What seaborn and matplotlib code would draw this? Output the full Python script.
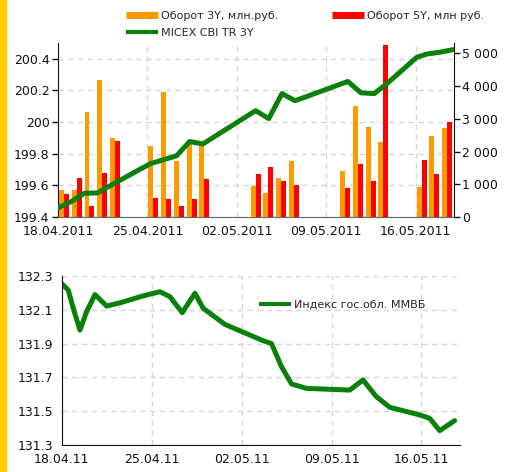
import numpy as np
import pandas as pd
import seaborn as sns
import matplotlib
matplotlib.use("Agg")
import matplotlib.pyplot as plt
from matplotlib.lines import Line2D
from matplotlib.patches import Rectangle
from matplotlib.ticker import FuncFormatter

# trading days with turnover bars (top chart)
trade_dates = ["18.04", "19.04", "20.04", "21.04", "22.04",
               "25.04", "26.04", "27.04", "28.04", "29.04",
               "03.05", "04.05", "05.05", "06.05",
               "10.05", "11.05", "12.05", "13.05",
               "16.05", "17.05", "18.05"]
vol_3y = [820, 820, 3225, 4190, 2405, 2180, 3825, 1713, 2340, 2300,
          940, 737, 1195, 1722, 1418, 3400, 2750, 2280, 920, 2463, 2720]
vol_5y = [716, 1195, 330, 1352, 2311, 590, 560, 330, 560, 1155,
          1326, 1530, 1091, 991, 890, 1622, 1091, 5259, 1753, 1326, 2902]

# MICEX CBI TR 3Y (days since 18.04.2011)
micex_day = [0.0, 1.03, 2.06, 3.09, 4.13, 7.22, 8.25, 9.28, 10.31, 11.35, 15.47,
             16.5, 17.53, 18.56, 22.69, 23.72, 24.75, 25.79, 28.09, 28.88, 29.91, 30.93]
micex_val = [199.457, 199.497, 199.55, 199.552, 199.6, 199.737, 199.762, 199.787,
             199.877, 199.862, 200.072, 200.022, 200.18, 200.135, 200.257, 200.185,
             200.18, 200.246, 200.41, 200.43, 200.442, 200.458]

# MICEX gov bond index
mmvb_day = [0.0, 0.51, 0.9, 1.42, 1.94, 2.59, 3.5, 4.67, 6.22, 7.64, 8.42, 9.38,
            10.37, 11.01, 12.7, 15.68, 16.33, 17.11, 17.89, 19.05, 22.42, 23.45,
            24.49, 25.53, 27.86, 28.64, 29.42, 30.58]
mmvb_val = [132.255, 132.217, 132.109, 131.98, 132.089, 132.19, 132.122, 132.144,
            132.18, 132.207, 132.178, 132.083, 132.198, 132.109, 132.014, 131.917,
            131.9, 131.763, 131.661, 131.635, 131.625, 131.685, 131.586, 131.523,
            131.478, 131.458, 131.385, 131.444]

top_ticks = [199.4, 199.6, 199.8, 200.0, 200.2, 200.4]
right_ticks = [0, 1000, 2000, 3000, 4000, 5000]
low_ticks = [131.3, 131.5, 131.7, 131.9, 132.1, 132.3]

ORANGE = "#FF9900"
RED = "#FF0000"
GREEN = "#0A800A"
GRID = "#D6D6D6"

sns.set_style("white")
plt.rcParams["font.family"] = ["DejaVu Sans"]
plt.rcParams["font.size"] = 9

start = pd.Timestamp("2011-04-18")
days = (pd.to_datetime([d + ".2011" for d in trade_dates], format="%d.%m.%Y") - start).days.values
week_ticks = pd.date_range(start, periods=5, freq="7D")
week_pos = (week_ticks - start).days.values

fig = plt.figure(figsize=(5.16, 4.72), dpi=100)
fig.patches.append(Rectangle((0, 0), 6 / 516, 1, transform=fig.transFigure,
                             color="#FFCC00", zorder=0))


def style_grid(ax):
    ax.grid(True, color=GRID, linestyle=(0, (4, 3)), linewidth=1)
    ax.tick_params(direction="out", length=4, width=1, colors="#111111",
                   labelsize=9, pad=2)


def handle(color, lw):
    return Line2D([], [], color=color, lw=lw, solid_capstyle="butt")


# ---- top chart ----
axg = fig.add_axes([58 / 516, 1 - 217 / 472, 396 / 516, 174 / 472])
axb = axg.twinx()
axl = axg.twinx()

sns.barplot(x=days + 0.27, y=vol_3y, native_scale=True, width=0.39, color=ORANGE,
            saturation=1, linewidth=0, errorbar=None, ax=axb)
sns.barplot(x=days + 0.66, y=vol_5y, native_scale=True, width=0.39, color=RED,
            saturation=1, linewidth=0, errorbar=None, ax=axb)
sns.lineplot(x=micex_day, y=micex_val, color=GREEN, linewidth=3.6, ax=axl)
for ln in axl.lines:
    ln.set_solid_joinstyle("round")
    ln.set_solid_capstyle("round")

axg.set_xlim(0, 31)
axg.set_ylim(199.4, 200.5)
axl.set_ylim(199.4, 200.5)
axb.set_ylim(0, 5320)
axg.set_xticks(week_pos)
axg.set_xticklabels(week_ticks.strftime("%d.%m.%Y"))
axg.set_yticks(top_ticks)
axg.yaxis.set_major_formatter(FuncFormatter(lambda v, _: f"{v:g}"))
style_grid(axg)
axb.set_yticks(right_ticks)
axb.yaxis.set_major_formatter(
    FuncFormatter(lambda v, _: f"{int(v):,}".replace(",", " ")))
axb.tick_params(direction="out", length=4, width=1, colors="#111111",
                labelsize=9, pad=2)
axb.grid(False)
axl.axis("off")
axl.grid(False)
for a in (axg, axb):
    a.set_xlabel("")
    a.set_ylabel("")
for s in ("top", "right"):
    axg.spines[s].set_visible(False)
axg.spines["left"].set_color("#111111")
axg.spines["bottom"].set_color("#666666")
for s in ("top", "left", "bottom"):
    axb.spines[s].set_visible(False)
axb.spines["right"].set_color("#111111")
axb.xaxis.set_visible(False)

fig.legend(handles=[handle(ORANGE, 5), handle(GREEN, 3)],
           labels=["Оборот 3Y, млн.руб.", "MICEX CBI TR 3Y"],
           loc="upper left", bbox_to_anchor=(118 / 516, 1 - 3 / 472),
           frameon=False, fontsize=8, handlelength=2.9, handletextpad=0.25,
           labelspacing=0.65, borderpad=0.2)
fig.legend(handles=[handle(RED, 5)],
           labels=["Оборот 5Y, млн руб."],
           loc="upper left", bbox_to_anchor=(324 / 516, 1 - 3 / 472),
           frameon=False, fontsize=8, handlelength=2.9, handletextpad=0.25,
           borderpad=0.2)

# ---- bottom chart ----
ax2 = fig.add_axes([61.7 / 516, 1 - 445 / 472, 398.3 / 516, 169 / 472])
sns.lineplot(x=mmvb_day, y=mmvb_val, color=GREEN, linewidth=3.6, ax=ax2)
for ln in ax2.lines:
    ln.set_solid_joinstyle("round")
    ln.set_solid_capstyle("round")
ax2.set_xlim(0, 31)
ax2.set_ylim(131.3, 132.3)
ax2.set_xticks(week_pos)
ax2.set_xticklabels(week_ticks.strftime("%d.%m.%y"))
ax2.set_yticks(low_ticks)
ax2.yaxis.set_major_formatter(FuncFormatter(lambda v, _: f"{v:.1f}"))
style_grid(ax2)
ax2.set_xlabel("")
ax2.set_ylabel("")
for s in ("top", "right"):
    ax2.spines[s].set_visible(False)
for s in ("left", "bottom"):
    ax2.spines[s].set_color("#111111")
ax2.legend(handles=[handle(GREEN, 3)],
           labels=["Индекс гос.обл. ММВБ"],
           loc="center left", bbox_to_anchor=(0.475, 0.83), frameon=False,
           fontsize=8, handlelength=2.9, handletextpad=0.25, borderpad=0.2)

fig.savefig("out.png", dpi=100)
